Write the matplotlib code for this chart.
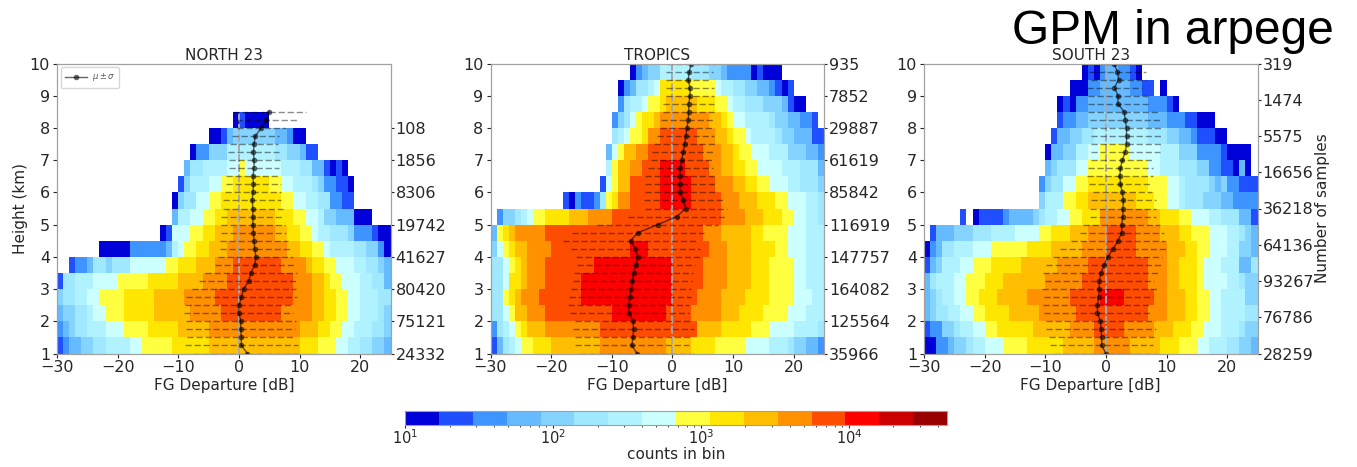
import numpy as np
import matplotlib
matplotlib.use('Agg')
import matplotlib.pyplot as plt
from matplotlib.colors import ListedColormap, LogNorm

# colour class -> typical count in a bin of that class
class_counts = [13, 22, 37, 63, 106, 180, 304, 515, 871, 1474, 2493, 4218, 7135, 12070, 20420, 34540]
class_colors = ['#0000d8', '#1f4fff', '#3f95ff', '#66baff', '#85d3ff', '#9fe8ff', '#b0f2ff', '#ccffff',
                '#ffff40', '#ffe600', '#ffbf00', '#ff9000', '#ff4d00', '#ff0000', '#cc0000', '#990000']

# histogram rows from 1 km upwards: (first dB, [(class, last dB), ...]), class -1 = empty
north_rows = [
    (-30, [(1,-29),(2,-28),(3,-26),(4,-24),(5,-22),(6,-18),(7,-16),(8,-11),(9,-5),(10,10),(9,13),(8,16),(7,18),(6,20),(5,22),(4,24),(3,25)]),
    (-30, [(2,-29),(3,-28),(4,-27),(5,-25),(6,-22),(7,-19),(8,-15),(9,-10),(10,-5),(11,10),(10,13),(9,15),(8,17),(7,19),(6,22),(5,24),(4,25)]),
    (-30, [(3,-29),(4,-27),(5,-25),(6,-24),(7,-22),(8,-19),(9,-14),(10,-8),(11,-3),(12,7),(11,12),(10,14),(9,16),(8,18),(7,20),(6,23),(5,24),(4,25)]),
    (-30, [(4,-29),(5,-27),(6,-25),(7,-23),(8,-19),(9,-14),(10,-9),(11,-4),(12,9),(11,12),(10,14),(9,16),(8,18),(7,20),(6,23),(5,25)]),
    (-30, [(1,-29),(5,-27),(6,-24),(7,-20),(8,-15),(9,-10),(10,-6),(11,-2),(12,9),(11,12),(10,14),(9,15),(8,17),(7,20),(6,22),(5,24),(3,25)]),
    (-28, [(1,-27),(2,-25),(3,-24),(5,-22),(4,-21),(5,-18),(7,-12),(8,-10),(9,-7),(10,-4),(11,-1),(12,7),(11,11),(10,12),(9,14),(8,16),(7,19),(6,21),(5,23),(4,24),(3,25)]),
    (-23, [(0,-18),(2,-12),(3,-11),(6,-10),(7,-9),(8,-7),(9,-5),(10,-2),(11,8),(10,10),(9,12),(8,14),(7,15),(6,19),(5,21),(4,23),(2,24),(0,25)]),
    (-13, [(0,-12),(1,-11),(7,-8),(8,-6),(9,-4),(10,-1),(11,6),(10,8),(9,10),(8,12),(7,13),(6,15),(5,18),(4,19),(2,22),(1,23),(0,25)]),
    (-11, [(3,-10),(6,-8),(7,-6),(8,-4),(9,-2),(10,6),(9,9),(8,11),(7,13),(6,14),(4,16),(3,19),(0,22)]),
    (-11, [(0,-10),(4,-9),(5,-7),(7,-5),(8,-3),(9,7),(8,9),(7,11),(6,13),(5,15),(2,17),(1,19)]),
    (-10, [(1,-9),(4,-8),(6,-5),(7,-3),(8,-1),(9,5),(8,7),(7,9),(6,12),(5,13),(4,14),(2,16),(1,18),(0,19)]),
    (-9, [(3,-8),(5,-6),(6,-2),(7,0),(8,1),(7,7),(6,10),(5,12),(3,14),(1,15),(0,16),(1,17),(0,18)]),
    (-8, [(0,-7),(2,-5),(4,-2),(6,6),(5,8),(4,10),(3,11),(1,13)]),
    (-5, [(0,-3),(1,-2),(3,-1),(4,6),(3,8),(2,9),(0,11)]),
    (-1, [(0,0),(1,1),(0,5)]),
    (0, []), (0, []), (0, []),
]
tropics_rows = [
    (-30, [(1,-29),(3,-28),(5,-27),(6,-26),(7,-25),(8,-23),(9,-20),(10,-12),(11,-1),(10,3),(9,7),(8,12),(7,16),(6,19),(5,20),(4,22),(3,24),(2,25)]),
    (-30, [(2,-29),(5,-28),(6,-27),(7,-26),(8,-25),(9,-24),(10,-21),(11,-12),(12,4),(10,8),(9,13),(8,16),(7,20),(6,24),(5,25)]),
    (-30, [(5,-28),(7,-27),(8,-26),(10,-24),(11,-21),(12,-10),(13,-1),(12,3),(11,8),(10,11),(9,15),(8,19),(7,22),(6,25)]),
    (-30, [(5,-28),(8,-27),(9,-26),(10,-25),(11,-22),(12,-15),(13,0),(12,4),(11,8),(10,12),(9,16),(8,20),(7,23),(6,25)]),
    (-30, [(5,-28),(7,-27),(9,-25),(10,-24),(11,-21),(12,-15),(13,0),(12,5),(11,9),(10,13),(9,16),(8,20),(7,22),(6,25)]),
    (-30, [(5,-28),(7,-27),(8,-26),(9,-25),(10,-24),(11,-21),(12,-13),(13,0),(12,5),(11,9),(10,13),(9,16),(8,20),(7,22),(6,25)]),
    (-30, [(4,-29),(7,-28),(8,-27),(9,-26),(10,-24),(11,-20),(12,-7),(13,-4),(12,6),(11,9),(10,13),(9,17),(8,19),(7,22),(6,25)]),
    (-30, [(3,-29),(8,-28),(9,-27),(10,-26),(11,-21),(12,5),(11,8),(10,13),(9,15),(8,19),(7,22),(6,25)]),
    (-29, [(2,-28),(4,-26),(5,-25),(6,-24),(7,-23),(8,-21),(9,-17),(10,-14),(11,-10),(12,8),(11,12),(10,15),(9,18),(8,20),(7,22),(6,24),(5,25)]),
    (-18, [(1,-17),(0,-16),(2,-15),(1,-13),(2,-12),(5,-11),(8,-10),(9,-9),(11,-7),(12,-2),(13,3),(12,8),(11,11),(10,14),(9,17),(8,19),(7,22),(6,24),(5,25)]),
    (-12, [(1,-11),(7,-10),(8,-9),(10,-7),(12,-2),(13,3),(12,7),(11,10),(10,12),(9,14),(8,16),(7,19),(6,21),(5,24),(4,25)]),
    (-11, [(6,-10),(8,-9),(10,-7),(11,-5),(12,-2),(13,2),(12,6),(11,8),(10,10),(9,12),(8,14),(7,18),(6,21),(5,24),(3,25)]),
    (-11, [(3,-10),(7,-9),(8,-8),(10,-6),(11,-4),(12,5),(11,8),(10,10),(9,11),(8,13),(7,16),(6,19),(4,22),(3,24),(2,25)]),
    (-10, [(5,-9),(6,-8),(7,-7),(8,-5),(9,-4),(11,-2),(12,4),(11,7),(10,9),(9,10),(8,12),(7,13),(6,17),(5,18),(4,20),(3,23),(1,25)]),
    (-10, [(2,-9),(4,-8),(5,-7),(7,-6),(8,-5),(9,-3),(10,-2),(11,6),(10,8),(9,9),(8,10),(7,12),(6,16),(5,17),(4,19),(3,21),(2,23),(1,24)]),
    (-9, [(2,-8),(5,-7),(6,-5),(7,-4),(8,-2),(9,-1),(10,4),(9,7),(8,9),(7,10),(6,12),(5,15),(4,18),(3,19),(1,20),(0,22)]),
    (-9, [(0,-8),(2,-7),(3,-6),(5,-4),(6,-3),(7,-2),(9,3),(8,7),(7,8),(6,10),(5,12),(4,14),(3,16),(2,17),(1,18),(0,19),(1,20)]),
    (-7, [(0,-6),(2,-5),(3,-4),(4,-2),(6,3),(5,6),(4,8),(3,9),(2,13),(0,14),(1,15),(0,18)]),
]
south_rows = [
    (-30, [(0,-28),(2,-26),(3,-25),(4,-23),(5,-22),(6,-20),(7,-17),(8,-13),(9,-7),(10,-2),(11,4),(10,9),(9,12),(8,15),(7,17),(6,20),(5,22),(4,24),(3,25)]),
    (-30, [(1,-29),(2,-27),(4,-25),(5,-24),(6,-22),(7,-20),(8,-18),(9,-12),(10,-6),(11,-2),(12,3),(11,8),(10,11),(9,14),(8,16),(7,19),(6,22),(5,23),(4,25)]),
    (-30, [(3,-29),(4,-28),(5,-26),(6,-24),(7,-22),(8,-20),(9,-16),(10,-11),(11,-5),(12,7),(11,10),(10,13),(9,15),(8,17),(7,19),(6,23),(5,25)]),
    (-30, [(3,-29),(4,-28),(5,-27),(6,-25),(7,-23),(8,-21),(9,-18),(10,-13),(11,-6),(12,-1),(13,3),(12,8),(11,10),(10,13),(9,15),(8,17),(7,19),(6,23),(4,25)]),
    (-30, [(3,-29),(5,-28),(6,-25),(7,-23),(8,-20),(9,-17),(10,-10),(11,-4),(12,7),(11,10),(10,12),(9,15),(8,16),(7,20),(6,22),(5,23),(4,25)]),
    (-30, [(1,-29),(3,-28),(4,-27),(6,-24),(7,-22),(8,-19),(9,-14),(10,-8),(11,-3),(12,7),(11,10),(10,12),(9,15),(8,16),(7,19),(6,22),(3,24),(5,25)]),
    (-30, [(0,-29),(2,-28),(3,-27),(5,-25),(6,-22),(7,-19),(8,-13),(9,-9),(10,-4),(11,0),(12,5),(11,10),(10,13),(9,15),(8,17),(7,20),(6,22),(4,24),(3,25)]),
    (-29, [(1,-28),(3,-25),(4,-22),(5,-19),(6,-15),(7,-11),(8,-9),(9,-6),(10,-3),(11,0),(12,5),(11,9),(10,12),(9,14),(8,17),(7,20),(6,22),(5,23),(4,24),(3,25)]),
    (-24, [(1,-23),(-1,-22),(0,-21),(1,-17),(2,-16),(3,-12),(4,-11),(5,-10),(6,-8),(7,-6),(8,-4),(9,-1),(11,7),(10,9),(9,12),(8,14),(7,17),(6,19),(5,22),(3,24),(1,25)]),
    (-11, [(4,-10),(6,-7),(8,-5),(9,-3),(10,5),(9,8),(8,10),(7,12),(6,13),(5,16),(4,19),(3,21),(2,25)]),
    (-11, [(2,-10),(4,-9),(5,-7),(7,-5),(8,-3),(9,7),(8,10),(7,12),(6,13),(5,17),(4,18),(3,19),(4,20),(2,22),(1,25)]),
    (-10, [(3,-9),(4,-8),(5,-5),(7,-3),(8,7),(7,9),(6,12),(5,15),(4,17),(2,19),(1,21),(0,22),(3,23),(0,24)]),
    (-10, [(0,-9),(3,-7),(4,-5),(6,-3),(7,-1),(8,4),(7,9),(6,12),(4,15),(2,19),(1,20),(0,24)]),
    (-9, [(1,-8),(3,-6),(4,-4),(5,-2),(6,7),(5,10),(4,12),(3,14),(2,15),(1,18),(0,20)]),
    (-8, [(1,-7),(2,-5),(3,-3),(4,7),(3,10),(2,13),(1,15),(0,18)]),
    (-8, [(0,-7),(1,-6),(0,-5),(2,-3),(3,7),(2,10),(1,11),(0,12)]),
    (-6, [(0,-3),(2,-1),(3,4),(2,6),(1,8),(-1,9),(0,10)]),
    (-4, [(0,-3),(1,-2),(0,-1),(2,0),(3,2),(2,4),(1,5),(0,6)]),
]

# mean and spread every 0.25 km from 1 km upwards
north_mean = [1.4,.4,.4,.3,.3,0,0,.4,.8,1.6,2,2.6,2.8,2.6,2.5,2.4,2.3,2.3,2.3,2.2,2.3,2.4,2.3,2.5,2.5,2.4,2.5,2.7,3.7,4.5,5]
north_std = [9,9.3,8.9,9,9.1,9,8.9,9.1,8.6,8.2,7.6,6.6,6.2,5.8,5.6,5.4,5.3,5.2,5,4.8,4.6,4.6,4.4,4.1,4.2,4.2,3.9,3.9,4,5,6]
tropics_mean = [-5.8,-6.7,-6.5,-6.4,-6.5,-7.1,-7.2,-7,-6.8,-6.6,-6.4,-6,-5.7,-6.1,-6.9,-5.7,-2.4,.7,2.2,1.8,1.3,1.2,1.2,1.3,1.5,1.8,2,2.2,2.4,2.6,2.7,2.7,2.9,2.9,2.6,2.8,3.1]
tropics_std = [9.4,9.4,9.5,10,9.5,9.8,10,10,9.9,9.8,9.8,9.7,10.2,10.7,11.2,10.9,10,8.1,6.8,6.5,5.9,5.8,5.7,5.4,5.1,5.1,5,4.7,4.5,4.4,4.2,4.2,4,3.9,3.7,3.9,4]
south_mean = [0,-.7,-.7,-.8,-.9,-1.4,-1.4,-1.2,-1.1,-1.1,-.8,-.3,.3,1.2,2,2.6,2.6,2.8,2.8,2.9,2.7,2.4,2.3,2.4,2.7,3.2,3.4,3.4,3.4,3.2,3,2,2,1.4,2.1,1.9,1.3]
south_std = [8.5,8.5,8.7,9,9,8.8,8.9,9,9.5,9,9.5,9.5,9,8.8,7.8,6.9,6.3,5.5,5.5,5.3,4.9,5.2,5.4,5.3,5.1,5.7,5.8,5.8,5.8,5.8,6,5,5,4.6,4.5,4.7,4.5]

north_samples = [24332, 75121, 80420, 41627, 19742, 8306, 1856, 108]
north_sample_heights = [1, 2, 3, 4, 5, 6, 7, 8]
tropics_samples = [35966, 125564, 164082, 147757, 116919, 85842, 61619, 29887, 7852, 935]
tropics_sample_heights = [1, 2, 3, 4, 5, 6, 7, 8, 9, 10]
south_samples = [28259, 76786, 93267, 64136, 36218, 16656, 5575, 1474, 319]
south_sample_heights = [1, 2.125, 3.25, 4.375, 5.5, 6.625, 7.75, 8.875, 10]

W, H = 1357., 467.
INK = '#262626'
SPINE = '#a0a0a0'


def grid_from_rows(rows):
    grid = np.full((18, 55), np.nan)
    for i, (start, runs) in enumerate(rows):
        left = start
        for cls, right in runs:
            if cls >= 0:
                grid[i, left+30:right+30] = class_counts[cls]
            left = right
    return np.ma.masked_invalid(grid)


cmap = ListedColormap(class_colors)
norm = LogNorm(vmin=10, vmax=46000)
x_edges = np.arange(-30, 26)
y_edges = np.arange(1, 10.5, 0.5)

fig = plt.figure(figsize=(W/100, H/100), dpi=100)

panels = [('NORTH 23', 57, north_rows, north_mean, north_std, north_samples, north_sample_heights),
          ('TROPICS', 490.5, tropics_rows, tropics_mean, tropics_std, tropics_samples, tropics_sample_heights),
          ('SOUTH 23', 924, south_rows, south_mean, south_std, south_samples, south_sample_heights)]

for n, (name, x0, rows, mean, std, samples, sample_heights) in enumerate(panels):
    ax = fig.add_axes([x0/W, 1-353.5/H, 333.5/W, 290/H])
    mesh = ax.pcolormesh(x_edges, y_edges, grid_from_rows(rows), cmap=cmap, norm=norm)
    mean = np.array(mean)
    std = np.array(std)
    hgt = 1 + 0.25*np.arange(len(mean))
    # zero line only runs as high as the profile
    ax.plot([0, 0], [1, hgt[-1]], color='#a8a8b0', ls=(0, (4, 1.2)), lw=1.4, zorder=3)
    ax.hlines(hgt, mean-std, mean+std, colors='k', linestyles=(0, (4.5, 2)), lw=1, alpha=0.45, zorder=4)
    ax.plot(mean, hgt, '-o', color='k', ms=4, mew=0, lw=1, alpha=0.6, zorder=5, label=r'$\mu \pm \sigma$')
    ax.set_xlim(-30, 25)
    ax.set_ylim(1, 10)
    ax.set_xticks([-30, -20, -10, 0, 10, 20])
    ax.set_yticks(range(1, 11))
    ax.tick_params(labelsize=11.5, colors=INK, length=3, width=0.8, pad=2)
    ax.set_xlabel('FG Departure [dB]', fontsize=11, color=INK, labelpad=1.5)
    ax.set_title(name, fontsize=11, color=INK, pad=2)
    for s in ax.spines.values():
        s.set_color(SPINE)

    ax2 = ax.twinx()
    ax2.set_ylim(1, 10)
    ax2.set_yticks(sample_heights)
    ax2.set_yticklabels(samples)
    ax2.tick_params(labelsize=11.5, colors=INK, length=2.5, width=0.8, pad=1.2)
    for s in ax2.spines.values():
        s.set_color(SPINE)

    if n == 0:
        ax.set_ylabel('Height (km)', fontsize=11, color=INK, labelpad=1)
        ax.legend(loc='upper left', fontsize=6, borderpad=0.5, handlelength=2.6, handletextpad=0.6,
                  labelcolor='#555555', borderaxespad=0.45)
    if n == 2:
        ax2.set_ylabel('Number of samples', fontsize=11, color=INK, labelpad=1.5)

cax = fig.add_axes([405/W, 1-424.5/H, 542/W, 13.5/H])
cb = fig.colorbar(mesh, cax=cax, orientation='horizontal')
cb.ax.tick_params(which='major', labelsize=10.5, colors=INK, length=2.5, pad=0)
cb.ax.tick_params(which='minor', colors=INK, length=1.5)
cb.outline.set_edgecolor(SPINE)
cb.set_label('counts in bin', fontsize=11, color=INK, labelpad=0)

fig.text(1012/W, 1-44/H, 'GPM in arpege', family='Liberation Sans', fontsize=34.5, color='k')

fig.savefig('out.png', dpi=100)
